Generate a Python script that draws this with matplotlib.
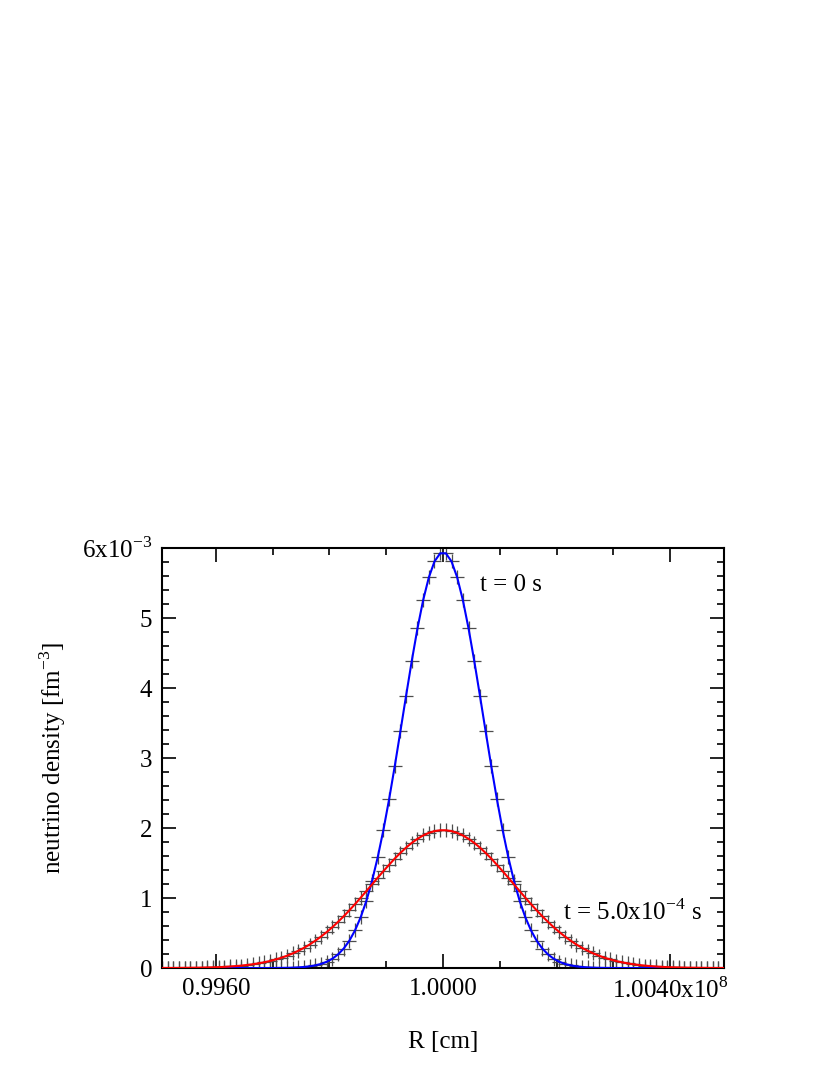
import numpy as np
import matplotlib
matplotlib.use("Agg")
import matplotlib.pyplot as plt
from matplotlib.ticker import MultipleLocator, FixedLocator, FixedFormatter

plt.rcParams['font.family'] = ['Liberation Serif', 'DejaVu Serif']
plt.rcParams['mathtext.fontset'] = 'custom'
plt.rcParams['mathtext.rm'] = 'Liberation Serif'

# ── Data (R in units of 1e8 cm, density in units of 1e-3 fm^-3) ─────────────
r_grid = np.round(np.arange(100) * 0.0001 + 0.99505, 5)

# t = 0 s
dens_t0 = [
    0, 0, 0, 0, 0, 0, 0, 0, 0, 0,
    0, 0, 0, 0, 0, 0, 0, 0, 0, 0,
    0.001, 0.002, 0.003, 0.005, 0.009, 0.015, 0.024, 0.038, 0.058, 0.089,
    0.133, 0.194, 0.278, 0.390, 0.538, 0.726, 0.960, 1.245, 1.583, 1.972,
    2.409, 2.884, 3.385, 3.893, 4.389, 4.851, 5.255, 5.580, 5.808, 5.925,
    5.925, 5.808, 5.580, 5.255, 4.851, 4.389, 3.893, 3.385, 2.884, 2.409,
    1.972, 1.583, 1.245, 0.960, 0.726, 0.538, 0.390, 0.278, 0.194, 0.133,
    0.089, 0.058, 0.038, 0.024, 0.015, 0.009, 0.005, 0.003, 0.002, 0.001,
    0, 0, 0, 0, 0, 0, 0, 0, 0, 0,
    0, 0, 0, 0, 0, 0, 0, 0, 0, 0,
]

# t = 5.0e-4 s
dens_t1 = [
    0.001, 0.001, 0.001, 0.002, 0.003, 0.004, 0.005, 0.006, 0.008, 0.010,
    0.013, 0.017, 0.022, 0.028, 0.035, 0.044, 0.054, 0.067, 0.082, 0.100,
    0.122, 0.146, 0.175, 0.208, 0.246, 0.288, 0.336, 0.390, 0.449, 0.513,
    0.583, 0.659, 0.739, 0.824, 0.913, 1.005, 1.100, 1.195, 1.291, 1.384,
    1.475, 1.564, 1.645, 1.721, 1.788, 1.846, 1.894, 1.931, 1.956, 1.968,
    1.968, 1.956, 1.931, 1.894, 1.846, 1.788, 1.721, 1.645, 1.564, 1.475,
    1.384, 1.291, 1.195, 1.100, 1.005, 0.913, 0.824, 0.739, 0.659, 0.583,
    0.513, 0.449, 0.390, 0.336, 0.288, 0.246, 0.208, 0.175, 0.146, 0.122,
    0.100, 0.082, 0.067, 0.054, 0.044, 0.035, 0.028, 0.022, 0.017, 0.013,
    0.010, 0.008, 0.006, 0.005, 0.004, 0.003, 0.002, 0.001, 0.001, 0.001,
]

x_ticks = [0.9960, 1.0000, 1.0040]
x_ticklabels = ['0.9960', '1.0000', r'1.0040x10$^{8}$']
y_ticks = [0, 1, 2, 3, 4, 5, 6]
y_ticklabels = ['0', '1', '2', '3', '4', '5', r'6x10$^{-3}$']

# ── Figure ───────────────────────────────────────────────────────────────────
fig = plt.figure(figsize=(8.3, 10.75), dpi=100)
ax = fig.add_axes([0.1952, 0.0995, 0.6771, 0.3907])

for dens, col in [(dens_t0, '#0000ff'), (dens_t1, '#ff0000')]:
    ax.plot(r_grid, dens, ls='none', marker='+', ms=10, mew=0.9,
            color='0.3', zorder=2)
    ax.plot(r_grid, dens, color=col, lw=1.5, zorder=3)

ax.set_xlim(0.99505, 1.00495)
ax.set_ylim(0, 6)

ax.xaxis.set_major_locator(FixedLocator(x_ticks))
ax.xaxis.set_major_formatter(FixedFormatter(x_ticklabels))
ax.xaxis.set_minor_locator(MultipleLocator(0.001))
ax.yaxis.set_major_locator(FixedLocator(y_ticks))
ax.yaxis.set_major_formatter(FixedFormatter(y_ticklabels))
ax.yaxis.set_minor_locator(MultipleLocator(0.2))

ax.tick_params(which='both', direction='in', top=True, right=True,
               labelsize=18, width=1.2)
ax.tick_params(which='major', length=10, pad=7)
ax.tick_params(which='minor', length=5)
for sp in ax.spines.values():
    sp.set_linewidth(1.5)

ax.set_xlabel('R [cm]', fontsize=18, labelpad=20)
ax.set_ylabel(r'neutrino density [fm$^{-3}$]', fontsize=18, labelpad=10)

ax.text(1.00066, 5.47, 't = 0 s', fontsize=18, va='center')
ax.text(1.00211, 0.80, r't = 5.0x10$^{-4}$ s', fontsize=18, va='center')

fig.savefig('out.png', dpi=100)
